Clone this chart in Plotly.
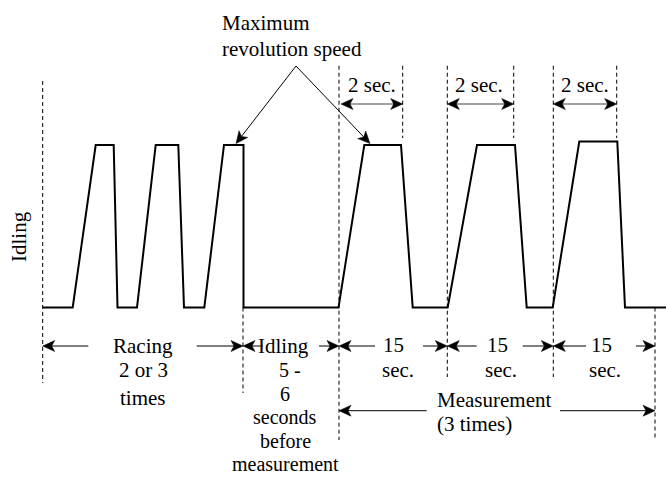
import math
import plotly.graph_objects as go

W, H = 666, 477

# ---- data (diagram coordinates: x = time position, y = level position) ----
IDLE = 307.5
MAXS = 145.0
MAXS3 = 141.5

wave_x = [42.7, 72.7, 95.7, 113.7, 117.5, 137.0, 155.7, 178.3, 184.0, 204.3,
          224.0, 243.5, 243.5, 338.5, 364.3, 401.0, 412.7, 447.7, 477.0, 515.0,
          526.7, 552.7, 579.3, 617.3, 625.0, 666.0]
wave_y = [IDLE, IDLE, MAXS, MAXS, IDLE, IDLE, MAXS, MAXS, IDLE, IDLE,
          MAXS, MAXS, IDLE, IDLE, MAXS, MAXS, IDLE, IDLE, MAXS, MAXS,
          IDLE, IDLE, MAXS3, MAXS3, IDLE, IDLE]

guide_x = [42.7, 243.0, 339.0, 402.7, 447.3, 513.7, 553.3, 616.7, 655.0]
guide_top = [81.0, 307.5, 65.7, 65.7, 65.7, 65.7, 65.7, 65.7, 307.5]
guide_bottom = [383.0, 393.0, 440.0, 138.0, 377.0, 138.0, 377.0, 138.0, 440.0]

# single-headed arrows: tail (x0,y0) -> head (x1,y1)
arrow_x0 = [88.3, 196.7, 263.0, 319.0, 375.0, 423.0, 476.7, 522.7, 586.0, 636.0, 426.7, 560.0, 296.0, 296.0]
arrow_y0 = [346.0, 346.0, 346.0, 346.0, 346.0, 346.0, 346.0, 346.0, 346.0, 346.0, 410.7, 410.7, 66.0, 66.0]
arrow_x1 = [42.7, 243.0, 243.0, 339.0, 339.0, 447.3, 447.3, 553.3, 553.3, 655.0, 339.0, 655.0, 236.0, 370.0]
arrow_y1 = [346.0, 346.0, 346.0, 346.0, 346.0, 346.0, 346.0, 346.0, 346.0, 346.0, 410.7, 410.7, 143.5, 143.5]

# double-headed "2 sec." arrows
dbl_x0 = [341.0, 447.3, 553.3]
dbl_x1 = [402.7, 513.7, 616.7]
dbl_y = 104.0

labels = ["Maximum", "revolution speed", "2 sec.", "2 sec.", "2 sec.",
          "Racing", "2 or 3", "times",
          "Idling", "5 -", "6", "seconds", "before", "measurement",
          "15", "sec.", "15", "sec.", "15", "sec.",
          "Measurement", "(3 times)"]
label_x = [221.0, 221.0, 371.5, 478.5, 585.0,
           143.0, 143.0, 143.0,
           283.5, 290.0, 285.0, 285.0, 285.0, 285.0,
           393.0, 398.0, 497.0, 501.0, 601.5, 605.0,
           436.0, 436.0]
label_y = [23.0, 48.5, 85.0, 85.0, 85.0,
           346.0, 370.0, 398.0,
           346.0, 370.0, 393.5, 417.0, 440.5, 464.0,
           345.0, 370.0, 345.0, 370.0, 345.0, 370.0,
           399.5, 423.5]
label_size = [21, 21, 21, 21, 21,
              21, 21, 21,
              21, 20, 20, 20, 20, 20,
              21, 21, 21, 21, 21, 21,
              21, 21]
label_anchor = ["left", "left", "center", "center", "center",
                "center", "center", "center",
                "center", "center", "center", "center", "center", "center",
                "center", "center", "center", "center", "center", "center",
                "left", "left"]

FONT = "Liberation Serif, Times New Roman, serif"
FS = 21

fig = go.Figure()
fig.add_trace(go.Scatter(x=wave_x, y=wave_y, mode="lines",
                         line=dict(color="black", width=2), hoverinfo="skip",
                         showlegend=False))

shapes = []
for gx, gt, gb in zip(guide_x, guide_top, guide_bottom):
    shapes.append(dict(type="line", x0=gx, x1=gx, y0=gt, y1=gb, xref="x", yref="y",
                       line=dict(color="black", width=1, dash="4px,3px")))

HL, HW, HN = 12.0, 5.5, 9.0


def head(tx, ty, fx, fy):
    dx, dy = tx - fx, ty - fy
    d = math.hypot(dx, dy)
    ux, uy = dx / d, dy / d
    nx, ny = -uy, ux
    p1 = (tx - HL * ux + HW * nx, ty - HL * uy + HW * ny)
    p2 = (tx - HN * ux, ty - HN * uy)
    p3 = (tx - HL * ux - HW * nx, ty - HL * uy - HW * ny)
    path = f"M{tx},{ty} L{p1[0]},{p1[1]} L{p2[0]},{p2[1]} L{p3[0]},{p3[1]} Z"
    return dict(type="path", path=path, xref="x", yref="y",
                fillcolor="black", line=dict(color="black", width=0.5)), p2


for x0, y0, x1, y1 in zip(arrow_x0, arrow_y0, arrow_x1, arrow_y1):
    h, n = head(x1, y1, x0, y0)
    shapes.append(dict(type="line", x0=x0, y0=y0, x1=n[0], y1=n[1], xref="x", yref="y",
                       line=dict(color="black", width=1)))
    shapes.append(h)

for x0, x1 in zip(dbl_x0, dbl_x1):
    h1, n1 = head(x1, dbl_y, x0, dbl_y)
    h0, n0 = head(x0, dbl_y, x1, dbl_y)
    shapes.append(dict(type="line", x0=n0[0], y0=dbl_y, x1=n1[0], y1=dbl_y, xref="x", yref="y",
                       line=dict(color="#444", width=1.2)))
    shapes += [h0, h1]

annotations = []
for t, x, y, a, s in zip(labels, label_x, label_y, label_anchor, label_size):
    annotations.append(dict(text=t, x=x, y=y, xref="x", yref="y", showarrow=False,
                            xanchor=a, yanchor="middle", borderpad=0,
                            font=dict(family=FONT, size=s, color="black")))
annotations.append(dict(text="Idling", x=19, y=237, xref="x", yref="y", showarrow=False,
                        textangle=-90, xanchor="center", yanchor="middle", borderpad=0,
                        font=dict(family=FONT, size=FS, color="black")))

fig.update_layout(
    width=W, height=H,
    margin=dict(l=0, r=0, t=0, b=0),
    paper_bgcolor="white", plot_bgcolor="white",
    xaxis=dict(range=[0, W], visible=False, fixedrange=True),
    yaxis=dict(range=[H, 0], visible=False, fixedrange=True),
    shapes=shapes, annotations=annotations,
)

fig.write_html("out.html", config={"displayModeBar": False},
               post_script="document.body.style.margin='0';document.body.style.overflow='hidden';")
